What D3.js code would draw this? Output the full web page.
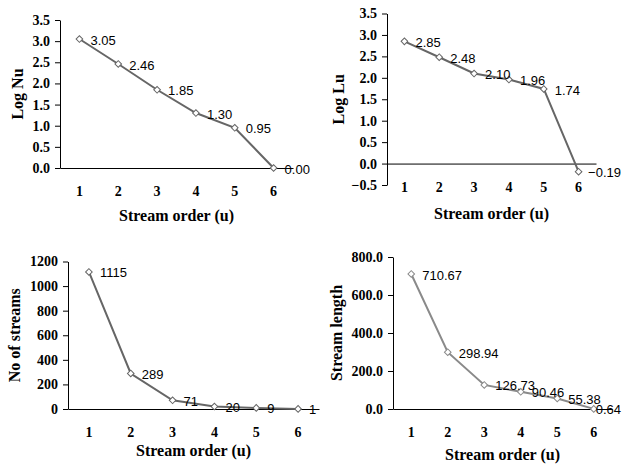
<!DOCTYPE html>
<html>
<head>
<meta charset="utf-8">
<script src="https://cdn.jsdelivr.net/npm/d3@7"></script>
<style>
  body { margin: 0; background: #fff; }
  .tick text, .title { font-family: "Liberation Serif", "Times New Roman", serif; font-weight: bold; fill: #000; }
  .label { font-family: "Liberation Sans", Arial, sans-serif; font-size: 13px; fill: #000; }
</style>
</head>
<body>
<div id="container"></div>
<script>
const w = 622
const h = 464

// data
const orders = [1, 2, 3, 4, 5, 6]
const logNu = [3.05, 2.46, 1.85, 1.30, 0.95, 0.00]
const logLu = [2.85, 2.48, 2.10, 1.96, 1.74, -0.19]
const streamCount = [1115, 289, 71, 20, 9, 1]
const streamLength = [710.67, 298.94, 126.73, 90.46, 55.38, 0.64]

// tick labels
const nuTicks = [0, 0.5, 1, 1.5, 2, 2.5, 3, 3.5]
const luTicks = [-0.5, 0, 0.5, 1, 1.5, 2, 2.5, 3, 3.5]
const countTicks = [0, 200, 400, 600, 800, 1000, 1200]
const lengthTicks = [0, 200, 400, 600, 800]

const svg = d3.select('#container')
              .append('svg')
              .attr('width', w)
              .attr('height', h)

const panels = [
  { values: logNu, ticks: nuTicks, yLabel: 'Log Nu', tickFmt: d3.format('.1f'), labelFmt: d3.format('.2f'),
    left: 60, right: 293, top: 20, bottom: 168, catY: 191, xTitleY: 215, yTitleX: 17, color: '#666' },
  { values: logLu, ticks: luTicks, yLabel: 'Log Lu', tickFmt: d3.format('.1f'), labelFmt: d3.format('.2f'),
    left: 387, right: 596, top: 13.5, bottom: 185, catY: 187, xTitleY: 213, yTitleX: 338, color: '#666' },
  { values: streamCount, ticks: countTicks, yLabel: 'No of streams', tickFmt: d3.format('d'), labelFmt: d3.format('d'),
    left: 68, right: 319, top: 261.5, bottom: 409, catY: 432, xTitleY: 450, yTitleX: 14, color: '#666' },
  { values: streamLength, ticks: lengthTicks, yLabel: 'Stream length', tickFmt: d3.format('.1f'), labelFmt: d3.format('.2f'),
    left: 393, right: 612, top: 257, bottom: 409, catY: 432, xTitleY: 454, yTitleX: 336, color: '#8a8a8a' }
]

panels.forEach(drawPanel)

function drawPanel(p) {
  const g = svg.append('g')
  const xScale = d3.scaleBand()
                   .domain(orders)
                   .range([p.left, p.right])
  const yScale = d3.scaleLinear()
                   .domain(d3.extent(p.ticks))
                   .range([p.bottom, p.top])
  const cx = d => xScale(d) + xScale.bandwidth() / 2

  // y axis
  const yAxis = d3.axisLeft(yScale)
                  .tickValues(p.ticks)
                  .tickFormat(p.tickFmt)
                  .tickSize(5)
                  .tickSizeOuter(0)
                  .tickPadding(5)
  g.append('g')
   .attr('transform', 'translate(' + p.left + ', 0)')
   .call(yAxis)
   .call(a => a.selectAll('text').style('font-size', '14px'))

  // x axis on the zero line, labels below the plot
  const y0 = yScale(0)
  const xAxis = d3.axisBottom(xScale)
                  .tickSize(0)
                  .tickSizeOuter(0)
  g.append('g')
   .attr('transform', 'translate(0, ' + y0 + ')')
   .call(xAxis)
   .call(a => a.selectAll('text')
               .attr('y', p.catY - y0)
               .attr('dy', '0.35em')
               .style('font-size', '14px'))

  g.selectAll('.domain').attr('stroke', '#000')

  // line
  const line = d3.line()
                 .x((d, i) => cx(orders[i]))
                 .y(d => yScale(d))
  g.append('path')
   .datum(p.values)
   .attr('d', line)
   .attr('fill', 'none')
   .attr('stroke', p.color)
   .attr('stroke-width', 2)

  // markers
  g.selectAll('.marker')
   .data(p.values)
   .enter()
   .append('path')
   .attr('class', 'marker')
   .attr('d', d3.symbol(d3.symbolSquare, 22))
   .attr('transform', (d, i) => 'translate(' + cx(orders[i]) + ',' + yScale(d) + ') rotate(45)')
   .attr('fill', '#fff')
   .attr('stroke', p.color)
   .attr('stroke-width', 1)

  // data labels (kept inside the page at the right edge)
  g.selectAll('.label')
   .data(p.values)
   .enter()
   .append('text')
   .attr('class', 'label')
   .attr('y', d => yScale(d) + 1)
   .attr('dy', '0.35em')
   .text(d => p.labelFmt(d))
   .attr('x', function (d, i) {
     const len = this.getComputedTextLength()
     return Math.min(cx(orders[i]) + 11, w - len - 1)
   })

  // titles
  g.append('text')
   .attr('class', 'title')
   .attr('x', (p.left + p.right) / 2)
   .attr('y', p.xTitleY)
   .attr('dy', '0.35em')
   .attr('text-anchor', 'middle')
   .style('font-size', '16px')
   .text('Stream order (u)')
  g.append('text')
   .attr('class', 'title')
   .attr('transform', 'translate(' + p.yTitleX + ',' + (p.top + p.bottom) / 2 + ') rotate(-90)')
   .attr('dy', '0.35em')
   .attr('text-anchor', 'middle')
   .style('font-size', '16px')
   .text(p.yLabel)
}
</script>
</body>
</html>
